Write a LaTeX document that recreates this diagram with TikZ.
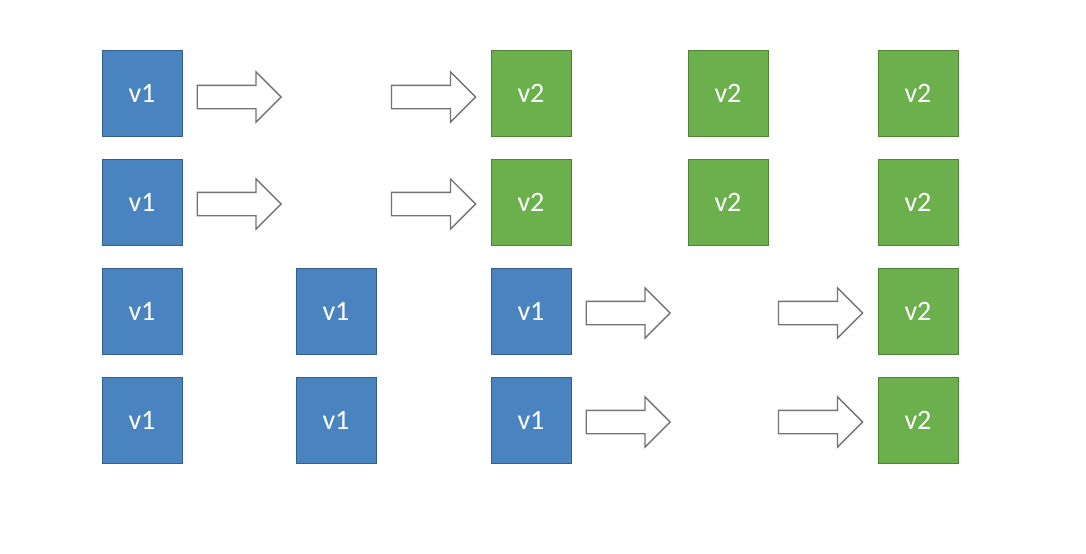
\documentclass[tikz,border=0pt]{standalone}
\usepackage{fontspec}
\newfontfamily\boxfont{Carlito}
\usetikzlibrary{positioning,shapes.arrows}
\definecolor{vonefill}{RGB}{74,132,192}
\definecolor{voneline}{RGB}{52,94,142}
\definecolor{vtwofill}{RGB}{108,176,78}
\definecolor{vtwoline}{RGB}{78,130,56}
\definecolor{arrowline}{RGB}{115,115,115}
\begin{document}
\begin{tikzpicture}[node distance=4.85cm,
    vbox/.style={draw,line width=0.7pt,minimum width=2cm,minimum height=2.15cm,
      inner sep=0pt,text=white,font=\boxfont\fontsize{20}{24}\selectfont},
    vone/.style={vbox,fill=vonefill,draw=voneline},
    vtwo/.style={vbox,fill=vtwofill,draw=vtwoline},
    fatarrow/.style={single arrow,draw=arrowline,fill=white,line width=0.9pt,
      minimum height=2.1cm,single arrow head extend=0.335cm,
      single arrow head indent=0pt,inner xsep=0pt,inner ysep=0.275cm}]
  \useasboundingbox (0,0) rectangle (27.15,-13.85);
  % row 1
  \node[vone] (A1) at (3.55,-2.325) {v1};
  \node[vtwo] (C1) at (13.275,-2.325) {v2};
  \node[vtwo] (D1) [right of=C1,node distance=4.925cm] {v2};
  \node[vtwo] (E1) [right of=D1,node distance=4.75cm] {v2};
  \node[fatarrow] (p1) [right=0.35cm of A1,yshift=-0.1cm] {};
  \node[fatarrow] (q1) [left=0.35cm of C1,yshift=-0.1cm] {};
  % row 2
  \node[vone] (A2) [below of=A1,node distance=2.725cm] {v1};
  \node[vtwo] (C2) [below of=C1,node distance=2.725cm] {v2};
  \node[vtwo] (D2) [below of=D1,node distance=2.725cm] {v2};
  \node[vtwo] (E2) [below of=E1,node distance=2.725cm] {v2};
  \node[fatarrow] (p2) [right=0.35cm of A2,yshift=-0.05cm] {};
  \node[fatarrow] (q2) [left=0.35cm of C2,yshift=-0.05cm] {};
  % row 3
  \node[vone] (A3) [below of=A2,node distance=2.725cm] {v1};
  \node[vone] (B3) [right of=A3] {v1};
  \node[vone] (C3) [below of=C2,node distance=2.725cm] {v1};
  \node[vtwo] (E3) [below of=E2,node distance=2.725cm] {v2};
  \node[fatarrow] (p3) [right=0.35cm of C3,yshift=-0.05cm] {};
  \node[fatarrow] (q3) [left=0.35cm of E3,yshift=-0.05cm] {};
  % row 4
  \node[vone] (A4) [below of=A3,node distance=2.725cm] {v1};
  \node[vone] (B4) [right of=A4] {v1};
  \node[vone] (C4) [below of=C3,node distance=2.725cm] {v1};
  \node[vtwo] (E4) [below of=E3,node distance=2.725cm] {v2};
  \node[fatarrow] (p4) [right=0.35cm of C4,yshift=-0.05cm] {};
  \node[fatarrow] (q4) [left=0.35cm of E4,yshift=-0.05cm] {};
\end{tikzpicture}
\end{document}
